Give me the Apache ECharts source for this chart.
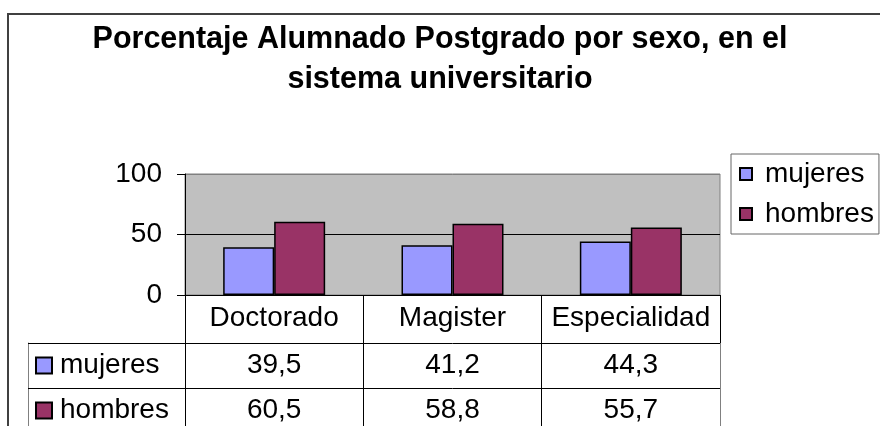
<!DOCTYPE html>
<html>
<head>
<meta charset="utf-8">
<script src="https://cdn.jsdelivr.net/npm/echarts@6/dist/echarts.min.js"></script>
<style>
html,body{margin:0;padding:0;background:#fff;overflow:hidden;}
#chart{width:880px;height:470px;}
</style>
</head>
<body>
<div id="chart"></div>
<script>
var titleText = 'Porcentaje Alumnado Postgrado por sexo, en el\nsistema universitario';
var categories = ['Doctorado', 'Magister', 'Especialidad'];
var seriesNames = ['mujeres', 'hombres'];
var mujeres = [39.5, 41.2, 44.3];
var hombres = [60.5, 58.8, 55.7];
var yTicks = [0, 50, 100];

var colors = { mujeres: '#9999FF', hombres: '#993366' };
var FONT = "'Liberation Sans', Arial, sans-serif";

function fmt(v) { return v.toFixed(1).replace('.', ','); }

var tableData = [];
mujeres.forEach(function (v, i) { tableData.push([i, 0, v]); });
hombres.forEach(function (v, i) { tableData.push([i, 1, v]); });

var chart = echarts.init(document.getElementById('chart'), null, { renderer: 'canvas' });
chart.setOption({
  animation: false,
  backgroundColor: '#ffffff',
  textStyle: { fontFamily: FONT },
  graphic: [{
    type: 'rect', z: -10,
    shape: { x: 8, y: 14, width: 900, height: 500 },
    style: { fill: 'none', stroke: '#404040', lineWidth: 2 }
  }],
  title: {
    text: titleText,
    left: 'center',
    top: 20,
    padding: [0, 0, 0, 12],
    textStyle: { fontFamily: FONT, fontSize: 30.5, fontWeight: 'bold', color: '#000', lineHeight: 40 }
  },
  legend: {
    data: seriesNames,
    orient: 'vertical',
    left: 731, top: 154,
    padding: [5, 5, 5, 8],
    itemWidth: 12, itemHeight: 12, itemGap: 10,
    icon: 'rect',
    borderColor: '#666', borderWidth: 1,
    itemStyle: { borderColor: '#000', borderWidth: 2 },
    textStyle: { fontFamily: FONT, fontSize: 28, color: '#000', lineHeight: 30, padding: [0, 0, 0, 8] }
  },
  grid: [
    { left: 185, top: 174, width: 535, height: 121, show: true, backgroundColor: '#C0C0C0', borderColor: '#808080', borderWidth: 1 },
    { left: 185, top: 343, width: 535, height: 90 }
  ],
  xAxis: [
    {
      type: 'category', gridIndex: 0, data: categories,
      axisLine: { lineStyle: { color: '#000', width: 1 } },
      axisTick: { show: true, alignWithLabel: false, interval: 0, length: 48, lineStyle: { color: '#000' } },
      axisLabel: { fontFamily: FONT, fontSize: 28, color: '#000', margin: 9, interval: 0 }
    },
    {
      type: 'category', gridIndex: 1, data: categories,
      axisLine: { show: false }, axisTick: { show: false }, axisLabel: { show: false },
      splitLine: { show: true, interval: 0, lineStyle: { color: ['#000', '#000', '#000', '#808080'], width: 1 } }
    }
  ],
  yAxis: [
    {
      type: 'value', gridIndex: 0, min: 0, max: 100, interval: 50,
      axisLine: { show: true, lineStyle: { color: '#000' } },
      axisTick: { show: true, length: 8, lineStyle: { color: '#000' } },
      axisLabel: {
        fontFamily: FONT, fontSize: 28, color: '#000', margin: 23,
        formatter: function (v) { return yTicks.indexOf(v) >= 0 ? String(v) : ''; }
      },
      splitLine: { show: true, lineStyle: { color: ['#000', '#000', '#808080'], width: 1 } }
    },
    {
      type: 'category', gridIndex: 1, data: seriesNames, inverse: true, offset: 157,
      axisLine: { show: true, lineStyle: { color: '#808080', width: 1 } },
      axisTick: { show: true, inside: true, interval: 0, length: 157, lineStyle: { color: '#000' } },
      axisLabel: {
        margin: -9, align: 'left', interval: 0,
        formatter: function (v) { return '{' + (v === 'mujeres' ? 'm' : 'h') + '|}{t|' + v + '}'; },
        rich: {
          m: { width: 14, height: 14, backgroundColor: colors.mujeres, borderColor: '#000', borderWidth: 2, verticalAlign: 'middle' },
          h: { width: 14, height: 14, backgroundColor: colors.hombres, borderColor: '#000', borderWidth: 2, verticalAlign: 'middle' },
          t: { fontFamily: FONT, fontSize: 28, color: '#000', padding: [0, 0, 0, 9], verticalAlign: 'middle' }
        }
      },
      splitLine: { show: true, interval: 0, lineStyle: { color: '#000', width: 1 } }
    }
  ],
  series: [
    {
      name: 'mujeres', type: 'bar', xAxisIndex: 0, yAxisIndex: 0,
      data: mujeres, barWidth: 51, barGap: '0%',
      itemStyle: { color: colors.mujeres, borderColor: '#000', borderWidth: 1.5 }
    },
    {
      name: 'hombres', type: 'bar', xAxisIndex: 0, yAxisIndex: 0,
      data: hombres, barWidth: 51, barGap: '0%',
      itemStyle: { color: colors.hombres, borderColor: '#000', borderWidth: 1.5 }
    },
    {
      name: 'tabla', type: 'scatter', xAxisIndex: 1, yAxisIndex: 1,
      data: tableData, symbol: 'rect', symbolSize: 1,
      itemStyle: { color: '#ffffff', opacity: 1 },
      emphasis: { disabled: true },
      label: {
        show: true, position: 'inside', fontFamily: FONT, fontSize: 28, color: '#000000', opacity: 1,
        textBorderWidth: 0,
        formatter: function (p) { return fmt(p.value[2]); }
      }
    }
  ]
});
</script>
</body>
</html>
